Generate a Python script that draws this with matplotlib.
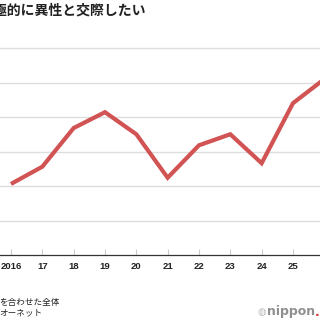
import matplotlib
matplotlib.use('Agg')
import matplotlib.pyplot as plt

plt.rcParams['font.family'] = ['Noto Sans CJK JP', 'DejaVu Sans']

# data (gridlines every 5 units, axis at 0)
years = [2016, 2017, 2018, 2019, 2020, 2021, 2022, 2023, 2024, 2025, 2026]
values = [10.3, 12.8, 18.4, 20.7, 17.5, 11.2, 15.9, 17.5, 13.3, 22.0, 25.5]
tick_years = years[:10]
tick_labels = ['2016', '17', '18', '19', '20', '21', '22', '23', '24', '25']
grid_levels = [5, 10, 15, 20, 25, 30]

title = '積極的に異性と交際したい'
note1 = 'を合わせた全体'
note2 = 'オーネット'

W = H = 320
fig = plt.figure(figsize=(3.2, 3.2), dpi=100)
ax = fig.add_axes([0, (H - 255) / H, 1, (255 - 46) / H])

ax.plot(years, values, color='#d15353', lw=3.0, solid_capstyle='butt',
        solid_joinstyle='miter', zorder=3)

step = 31.33
ax.set_xlim(2016 - 11 / step, 2016 + (W - 11) / step)
ax.set_ylim(0, 30 * (255 - 46) / (255 - 48))

for g in grid_levels:
    ax.axhline(g, color='#dedede', lw=1.0, zorder=1)

for s in ['top', 'right', 'left']:
    ax.spines[s].set_visible(False)
ax.spines['bottom'].set_color('#333333')
ax.spines['bottom'].set_linewidth(0.9)
ax.set_yticks([])
ax.set_xticks(tick_years)
ax.set_xticklabels(tick_labels, fontsize=6.8, fontweight='bold', color='#222222',
                   family=['Liberation Sans'])
ax.tick_params(axis='x', direction='in', length=4, color='#cccccc', width=0.8, pad=5)

fig.text(146 / W, 1 - 11 / H, title, ha='right', va='center', fontsize=10,
         fontweight='bold', color='#222222')
fig.text(-1 / W, 1 - 302 / H, note1, ha='left', va='center', fontsize=6.2,
         color='#222222')
fig.text(-1 / W, 1 - 313 / H, note2, ha='left', va='center', fontsize=6.2,
         color='#222222')

# nippon.com logo
fig.canvas.draw()
r = fig.canvas.get_renderer()
fig.text(258 / W, 1 - 312 / H, '◍', ha='left', va='center', fontsize=7,
         color='#bbbbbb', family=['DejaVu Sans'])
x = 267
for txt, col in [('nippon', '#8f8f8f'), ('.', '#d33a3a'), ('com', '#8f8f8f')]:
    t = fig.text(x / W, 1 - 312 / H, txt, ha='left', va='center', fontsize=9,
                 fontweight='bold', color=col, family=['DejaVu Sans'])
    x += t.get_window_extent(r).width

fig.savefig('out.png', dpi=100)
